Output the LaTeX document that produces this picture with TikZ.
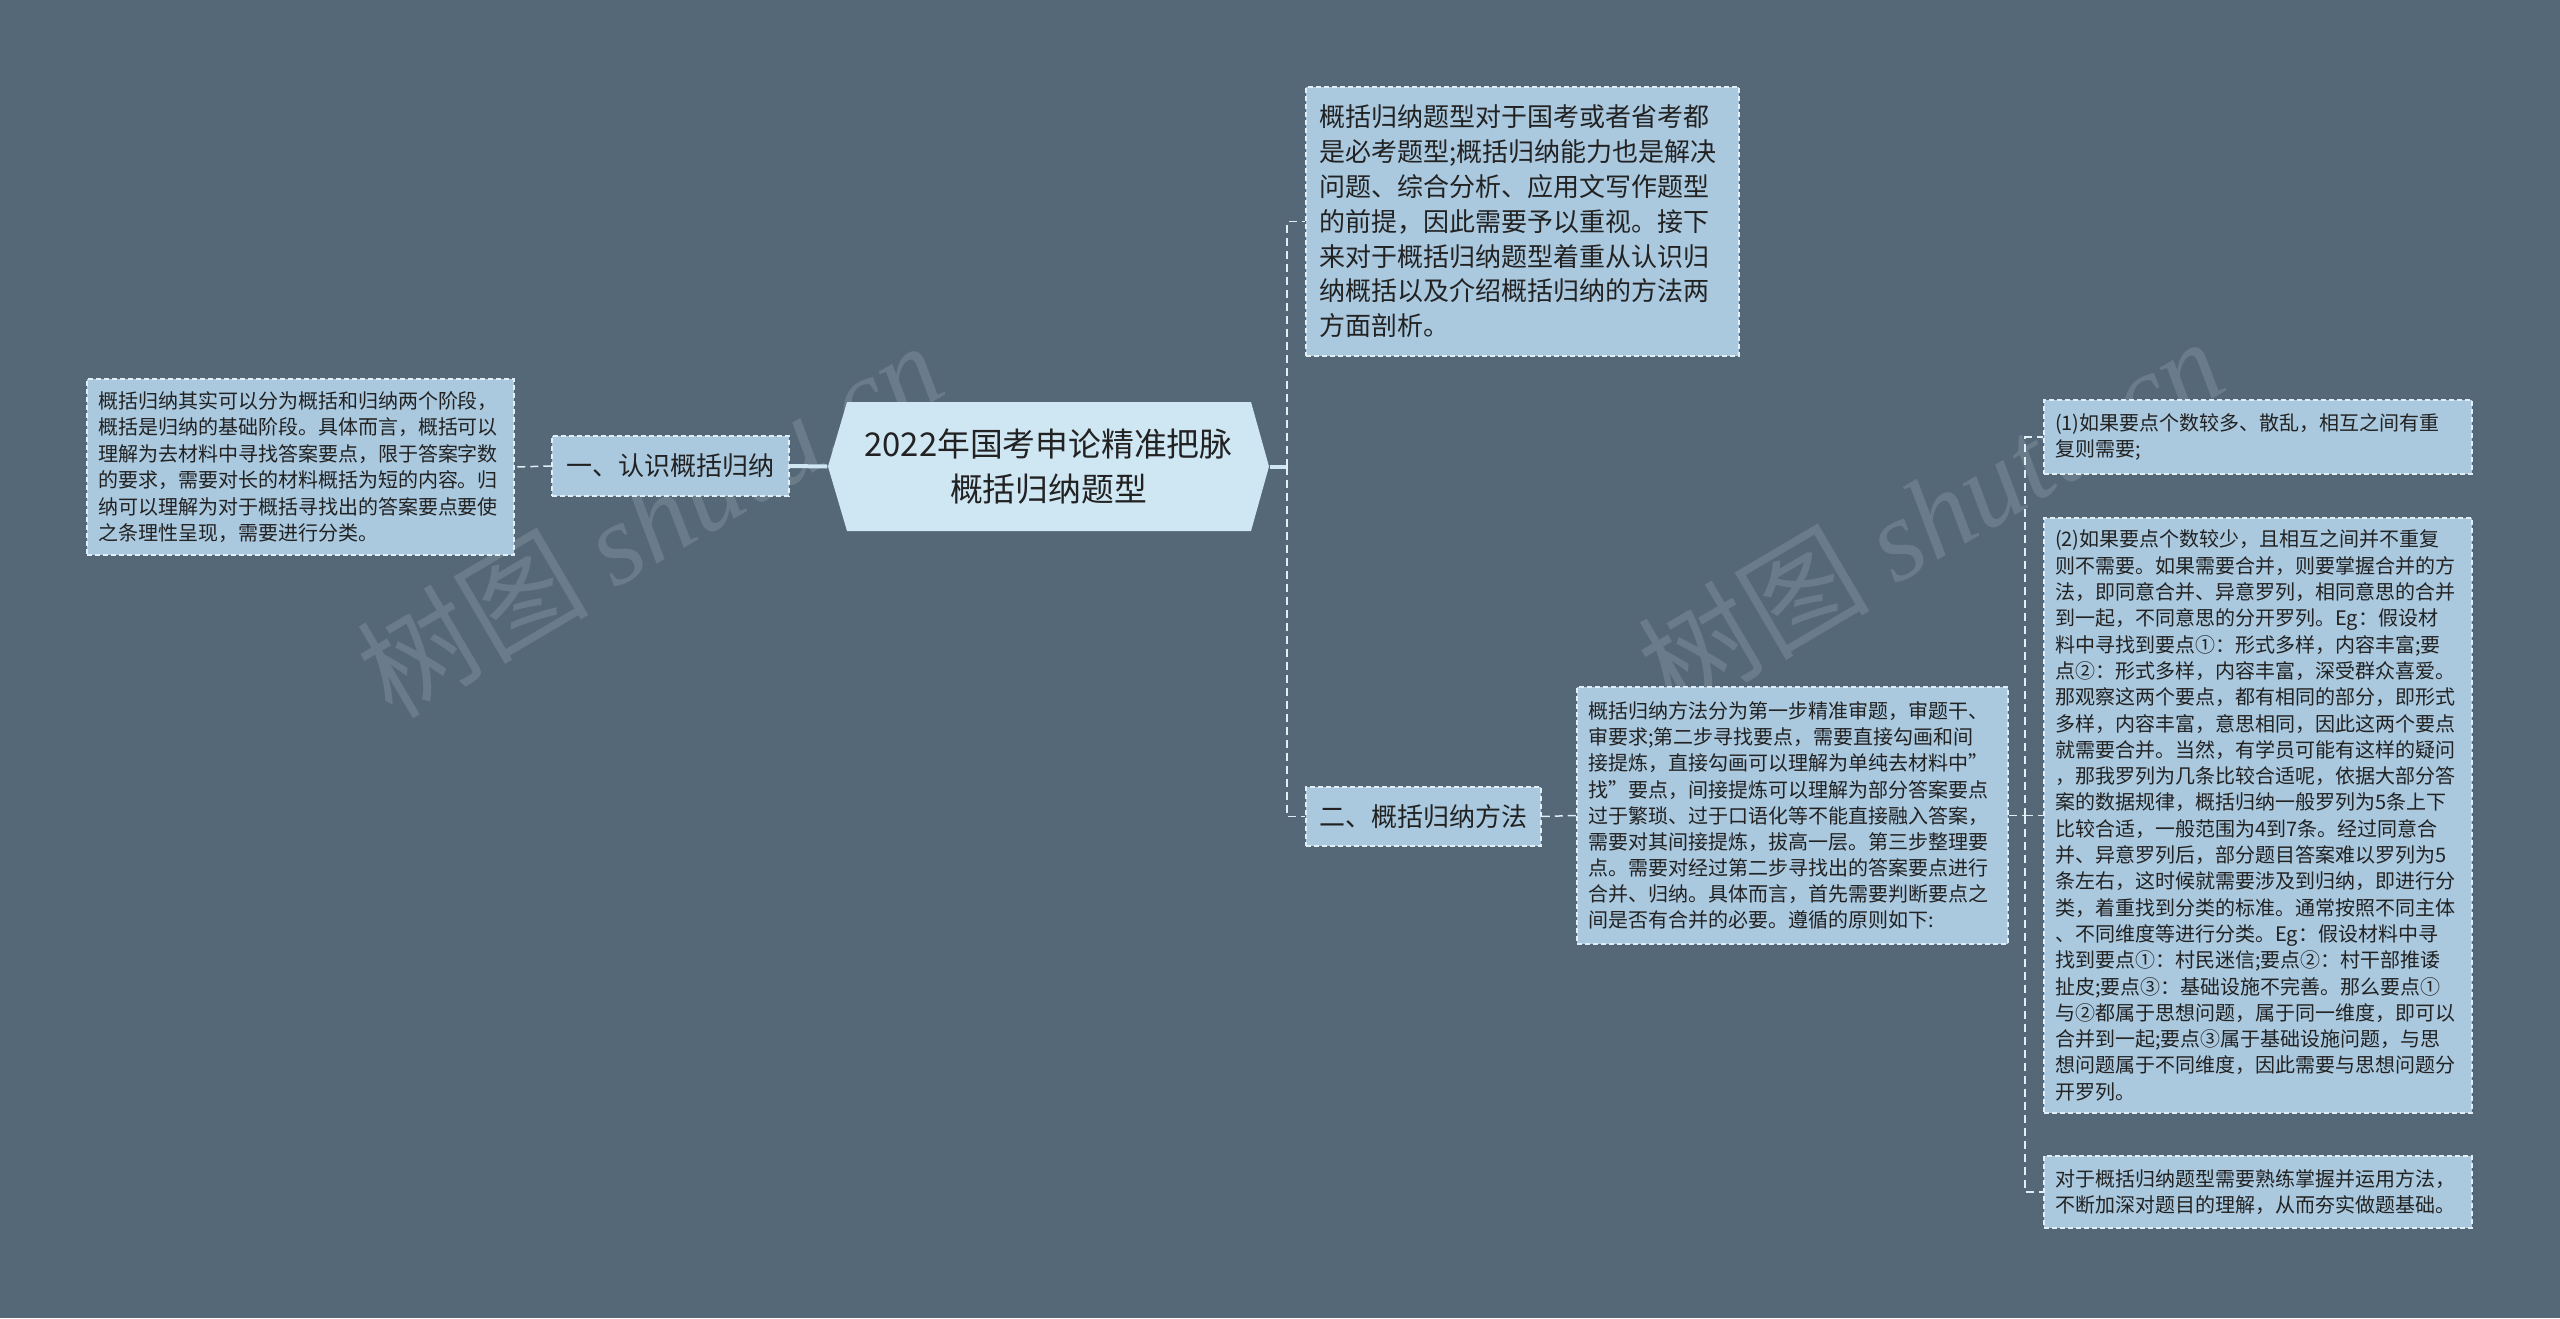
\documentclass[tikz,border=0pt]{standalone}
\usepackage{fontspec}
\setmainfont{Noto Sans CJK SC}
\newfontfamily\wmlatin{Liberation Serif}
\usetikzlibrary{positioning}

\definecolor{bgslate}{RGB}{84,104,120}
\definecolor{boxblue}{RGB}{170,200,222}
\definecolor{rootblue}{RGB}{207,230,243}
\definecolor{edgewhite}{RGB}{225,238,246}
\definecolor{inkdark}{RGB}{34,34,34}

\tikzset{every picture/.style={line width=0.75pt}}
\tikzset{
  topicbox/.style={draw=edgewhite, dash pattern=on 2.5pt off 1.5pt, fill=boxblue, text=inkdark, inner xsep=5.5pt, inner ysep=0pt, align=left},
  smalltxt/.style={font=\fontsize{10}{13.2}\selectfont},
  midtxt/.style={font=\fontsize{13}{17.4}\selectfont},
  roottxt/.style={font=\fontsize{16.4}{22.9}\selectfont, text=inkdark, align=center, inner sep=0pt},
  link/.style={draw=edgewhite, dash pattern=on 4pt off 2.5pt, line width=0.75pt},
  rootlink/.style={draw=rootblue, line width=2pt},
  wm/.style={text=white, opacity=0.13, font=\fontsize{58}{58}\selectfont},
}

\begin{document}
\begin{tikzpicture}[x=0.5pt,y=0.5pt,yscale=-1]
	% Background and watermarks
	\fill[bgslate] (0,0) rectangle (2560,1318);
	\node[wm, rotate=30.5] (wmA) at (649,518) {树图 {\wmlatin\itshape shutu.cn}};
	\node[wm, rotate=30.5] (wmB) at (1930,514) {树图 {\wmlatin\itshape shutu.cn}};
	
	% Root hexagon
	\fill[rootblue] (828,466.5) -- (847,402) -- (1251,402) -- (1269,466.5) -- (1251,531) -- (847,531) -- cycle;
	\node[roottxt, minimum width=220.5pt, minimum height=64.5pt] (root) at (1048.5,466.5) {2022年国考申论精准把脉\\概括归纳题型};
	
	% Left branch
	\node[topicbox, midtxt, minimum width=118.5pt, minimum height=30pt, align=center] (sec1) at (670.5,466) {一、认识概括归纳};
	\node[topicbox, smalltxt, text width=202.5pt, minimum height=88pt] (sec1txt) at (300.5,467) {概括归纳其实可以分为概括和归纳两个阶段，\\概括是归纳的基础阶段。具体而言，概括可以\\理解为去材料中寻找答案要点，限于答案字数\\的要求，需要对长的材料概括为短的内容。归\\纳可以理解为对于概括寻找出的答案要点要使\\之条理性呈现，需要进行分类。};
	
	% Right branch
	\node[topicbox, midtxt, inner xsep=6.5pt, text width=203.5pt, minimum height=134.5pt] (intro) at (1522.5,221.5) {概括归纳题型对于国考或者省考都\\是必考题型;概括归纳能力也是解决\\问题、综合分析、应用文写作题型\\的前提，因此需要予以重视。接下\\来对于概括归纳题型着重从认识归\\纳概括以及介绍概括归纳的方法两\\方面剖析。};
	\node[topicbox, midtxt, minimum width=117.5pt, minimum height=29.5pt, align=center] (sec2) at (1423.5,816.5) {二、概括归纳方法};
	\node[topicbox, font=\fontsize{10}{13.05}\selectfont, text width=204.5pt, minimum height=128.5pt] (method) at (1792.5,815.5) {概括归纳方法分为第一步精准审题，审题干、\\审要求;第二步寻找要点，需要直接勾画和间\\接提炼，直接勾画可以理解为单纯去材料中"\\找"要点，间接提炼可以理解为部分答案要点\\过于繁琐、过于口语化等不能直接融入答案，\\需要对其间接提炼，拔高一层。第三步整理要\\点。需要对经过第二步寻找出的答案要点进行\\合并、归纳。具体而言，首先需要判断要点之\\间是否有合并的必要。遵循的原则如下:};
	
	% Principles
	\node[topicbox, smalltxt, text width=203pt, minimum height=37pt] (p1) at (2258,437) {(1)如果要点个数较多、散乱，相互之间有重\\复则需要;};
	\node[topicbox, font=\fontsize{10}{13.15}\selectfont, text width=203pt, minimum height=297.5pt] (p2) at (2258,815.5) {(2)如果要点个数较少，且相互之间并不重复\\则不需要。如果需要合并，则要掌握合并的方\\法，即同意合并、异意罗列，相同意思的合并\\到一起，不同意思的分开罗列。Eg：假设材\\料中寻找到要点①：形式多样，内容丰富;要\\点②：形式多样，内容丰富，深受群众喜爱。\\那观察这两个要点，都有相同的部分，即形式\\多样，内容丰富，意思相同，因此这两个要点\\就需要合并。当然，有学员可能有这样的疑问\\，那我罗列为几条比较合适呢，依据大部分答\\案的数据规律，概括归纳一般罗列为5条上下\\比较合适，一般范围为4到7条。经过同意合\\并、异意罗列后，部分题目答案难以罗列为5\\条左右，这时候就需要涉及到归纳，即进行分\\类，着重找到分类的标准。通常按照不同主体\\、不同维度等进行分类。Eg：假设材料中寻\\找到要点①：村民迷信;要点②：村干部推诿\\扯皮;要点③：基础设施不完善。那么要点①\\与②都属于思想问题，属于同一维度，即可以\\合并到一起;要点③属于基础设施问题，与思\\想问题属于不同维度，因此需要与思想问题分\\开罗列。};
	\node[topicbox, smalltxt, text width=203pt, minimum height=36pt] (p3) at (2258,1192) {对于概括归纳题型需要熟练掌握并运用方法，\\不断加深对题目的理解，从而夯实做题基础。};
	
	% Connectors
	\coordinate (fork1) at (1287,466.5);
	\coordinate (fork2) at (2025,815.5);
	\draw[rootlink] (root.west) -- (sec1.east);
	\draw[link] (sec1.west) -- (sec1txt.east);
	\draw[rootlink] (root.east) -- (fork1);
	\draw[link] (fork1) |- (intro.west);
	\draw[link] (fork1) |- (sec2.west);
	\draw[link] (sec2.east) -- (method.west);
	\draw[link] (method.east) -- (fork2);
	\draw[link] (fork2) |- (p1.west);
	\draw[link] (fork2) -- (p2.west);
	\draw[link] (fork2) |- (p3.west);
\end{tikzpicture}
\end{document}
